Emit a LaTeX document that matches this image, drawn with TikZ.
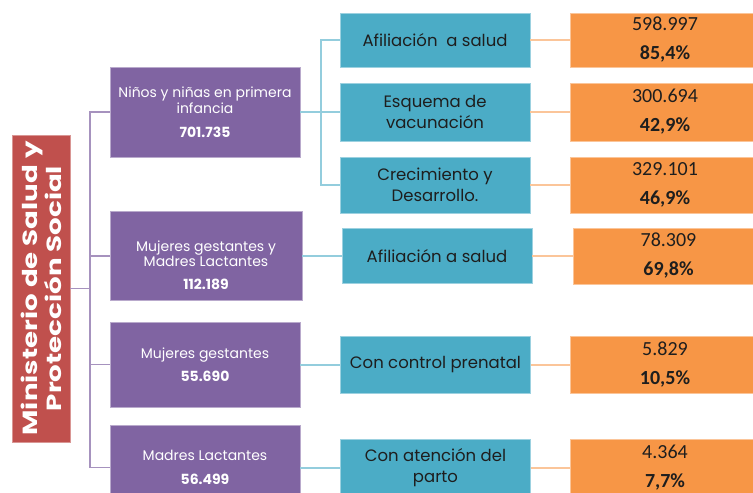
\documentclass[tikz,border=0pt]{standalone}
\usepackage{fontspec}
\setmainfont{Poppins}
\newfontfamily\numfont{Carlito}
\newfontfamily\titlefont[FakeStretch=1.35]{Poppins}
\definecolor{minred}{HTML}{C0504D}
\definecolor{grppurple}{HTML}{8064A2}
\definecolor{actteal}{HTML}{4BACC6}
\definecolor{valorange}{HTML}{F79646}
\definecolor{txtdark}{HTML}{1E1E1E}

\begin{document}
\begin{tikzpicture}[x=1pt,y=-1pt,
    grp/.style={fill=grppurple,draw=grppurple!55!white,line width=0.8pt,text=white,
        minimum width=190pt,align=center,inner sep=1pt,font=\fontsize{14}{16.5}\selectfont},
    act/.style={fill=actteal,draw=actteal!55!white,line width=0.8pt,text=txtdark,
        minimum width=190pt,align=center,inner sep=1pt,font=\fontsize{16.5}{21}\selectfont},
    val/.style={fill=valorange,draw=valorange!55!white,line width=0.8pt,text=txtdark,
        minimum width=190pt,align=center,inner sep=1pt,font=\numfont\fontsize{20}{24}\selectfont},
    plink/.style={draw=grppurple!70!white,line width=1.8pt},
    tlink/.style={draw=actteal!60!white,line width=2pt},
    olink/.style={draw=valorange!55!white,line width=2pt}]
    \useasboundingbox (0,0) rectangle (753,493);
    \clip (0,0) rectangle (753,493);

    \node[fill=minred,draw=minred!60!white,line width=0.8pt,text=white,rotate=90,
        minimum width=307pt,minimum height=58pt,align=center,
        font=\titlefont\bfseries\fontsize{20.5}{24}\selectfont] (min) at (41,288.5)
        {Ministerio de Salud y\\Protección Social};

    \node[grp,minimum height=90pt] (ninos) at (205,112)
        {Niños y niñas en primera\\infancia\\[7pt]\textbf{701.735}};
    \node[grp,minimum width=192pt,minimum height=89pt,font=\fontsize{14}{15}\selectfont] (gestlact) at (206,256)
        {\rule{0pt}{30pt}Mujeres gestantes y\\Madres Lactantes\\[8pt]\textbf{112.189}};
    \node[grp,minimum height=85pt] (gest) at (205,364.5)
        {Mujeres gestantes\\[7pt]\textbf{55.690}};
    \node[grp,minimum height=84pt] (lact) at (205,467.5)
        {Madres Lactantes\\[7pt]\textbf{56.499}};

    \node[act,minimum height=54pt] (afil) at (435,40) {Afiliación~~a salud};
    \node[act,minimum height=58pt] (vacu) at (435,112) {Esquema de\\vacunación};
    \node[act,minimum height=56pt] (crec) at (435,185) {Crecimiento y\\Desarrollo.};
    \node[act,minimum height=55pt] (afilb) at (437,256) {Afiliación a salud};
    \node[act,minimum height=57pt] (prenat) at (435.5,364.5) {Con control prenatal};
    \node[act,minimum height=56pt] (parto) at (435.5,467.5) {Con atención del\\parto};

    \node[val,minimum height=54pt] (vafil) at (665,40) {598.997\\[5pt]\textbf{85,4\%}};
    \node[val,minimum height=58pt] (vvacu) at (665,112) {300.694\\[5pt]\textbf{42,9\%}};
    \node[val,minimum height=56pt] (vcrec) at (665,185) {329.101\\[5pt]\textbf{46,9\%}};
    \node[val,minimum height=56pt] (vafilb) at (668.5,256) {78.309\\[5pt]\textbf{69,8\%}};
    \node[val,minimum height=57pt] (vprenat) at (665,364.5) {5.829\\[5pt]\textbf{10,5\%}};
    \node[val,minimum height=56pt] (vparto) at (665,467.5) {4.364\\[5pt]\textbf{7,7\%}};

    \coordinate (pspine) at (90,0);
    \coordinate (tspine) at (321,0);

    \draw[plink] (ninos.west) -- (ninos.west -| pspine) -- (lact.west -| pspine) -- (lact.west);
    \draw[plink] (gestlact.west) -- (gestlact.west -| pspine);
    \draw[plink] (gest.west) -- (gest.west -| pspine);
    \draw[plink] (min.south) -- (min.south -| pspine);

    \draw[tlink] (afil.west) -- (afil.west -| tspine) -- (crec.west -| tspine) -- (crec.west);
    \draw[tlink] (ninos.east) -- (vacu.west);
    \draw[tlink] (gestlact.east) -- (afilb.west);
    \draw[tlink] (gest.east) -- (prenat.west);
    \draw[tlink] (lact.east) -- (parto.west);

    \draw[olink] (afil.east) -- (vafil.west);
    \draw[olink] (vacu.east) -- (vvacu.west);
    \draw[olink] (crec.east) -- (vcrec.west);
    \draw[olink] (afilb.east) -- (vafilb.west);
    \draw[olink] (prenat.east) -- (vprenat.west);
    \draw[olink] (parto.east) -- (vparto.west);
\end{tikzpicture}
\end{document}
